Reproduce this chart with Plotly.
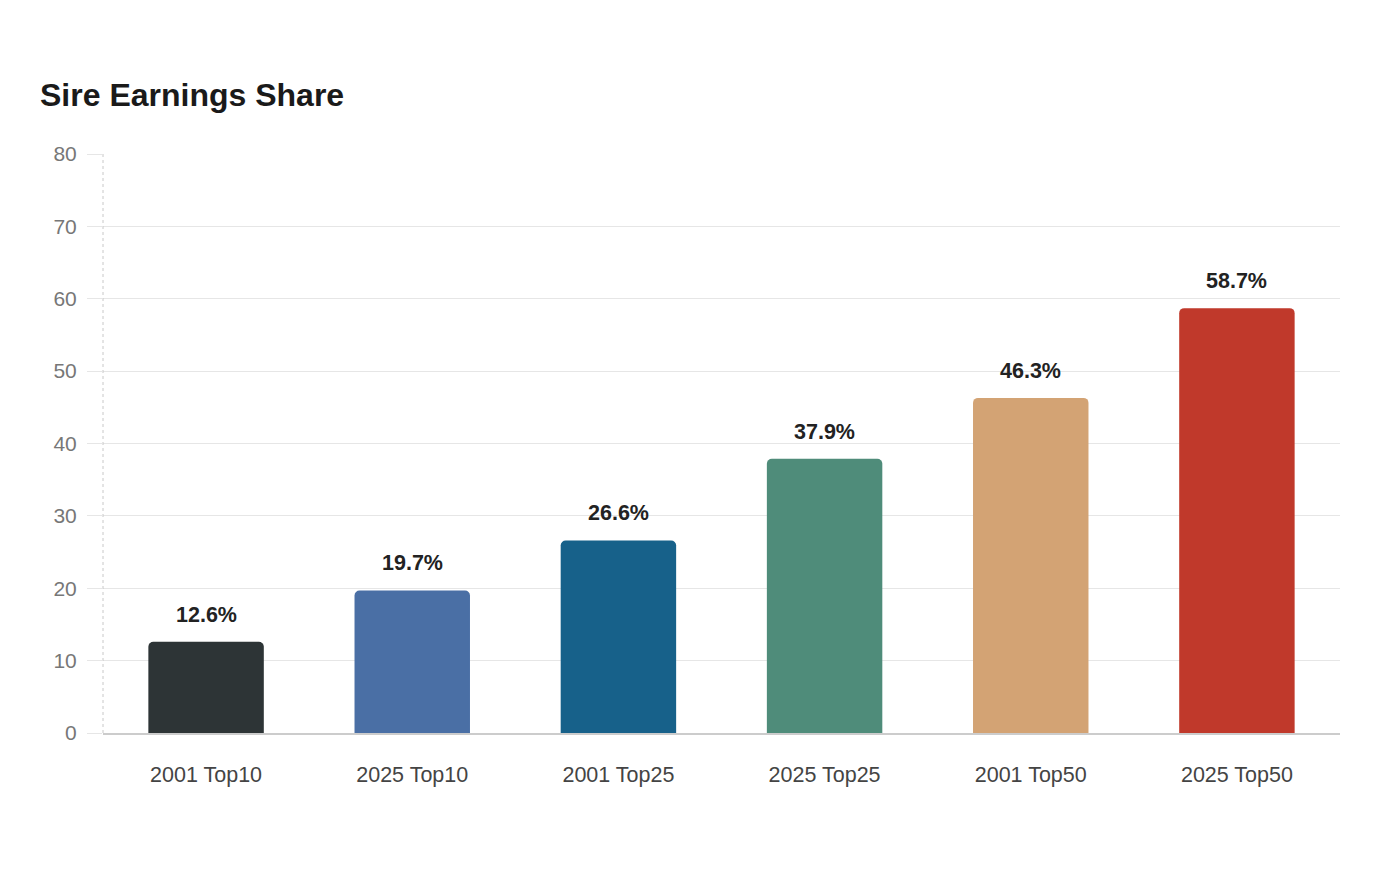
import plotly.graph_objects as go

categories = ["2001 Top10", "2025 Top10", "2001 Top25", "2025 Top25", "2001 Top50", "2025 Top50"]
values = [12.6, 19.7, 26.6, 37.9, 46.3, 58.7]
labels = ["12.6%", "19.7%", "26.6%", "37.9%", "46.3%", "58.7%"]
colors = ["#2d3436", "#4a6fa5", "#17618a", "#4f8c7a", "#d3a374", "#c0392b"]
y_ticks = [0, 10, 20, 30, 40, 50, 60, 70, 80]

FONT = "Liberation Sans, Arial, sans-serif"

fig = go.Figure()
fig.add_trace(go.Bar(
    x=categories, y=values,
    marker=dict(color=colors, line=dict(width=0)),
    hoverinfo="x+y",
))

for c, v, t in zip(categories, values, labels):
    fig.add_annotation(x=c, y=v, text=f"<b>{t}</b>", showarrow=False,
                       yanchor="bottom", yshift=13,
                       font=dict(family=FONT, size=21.5, color="#222222"))

fig.add_shape(type="line", xref="paper", yref="y", x0=0, x1=0, y0=0, y1=80,
              line=dict(color="#c8c8c8", width=1, dash="dot"), layer="above")

fig.update_layout(
    width=1400, height=880,
    autosize=False,
    margin=dict(l=103, r=60, t=154, b=147),
    paper_bgcolor="white", plot_bgcolor="white",
    bargap=0.44,
    barcornerradius=5,
    showlegend=False,
    font=dict(family=FONT),
    title=dict(text="<b>Sire Earnings Share</b>", x=40 / 1400, xref="container", xanchor="left",
               y=1 - 95 / 880, yref="container", yanchor="middle",
               font=dict(family=FONT, size=32, color="#1a1a1a")),
)

fig.update_yaxes(
    range=[0, 80], tickvals=y_ticks, showgrid=True, gridcolor="#e6e6e6", gridwidth=1,
    ticks="outside", ticklen=15, tickcolor="#e6e6e6",
    tickfont=dict(family=FONT, size=21, color="#777777"),
    zeroline=False, showline=False, ticklabelstandoff=6,
)
fig.update_xaxes(
    showgrid=False, showline=True, linecolor="#cccccc", linewidth=2,
    ticks="", tickfont=dict(family=FONT, size=21.5, color="#444444"),
    ticklabelstandoff=21,
)

fig.write_html("out.html")
